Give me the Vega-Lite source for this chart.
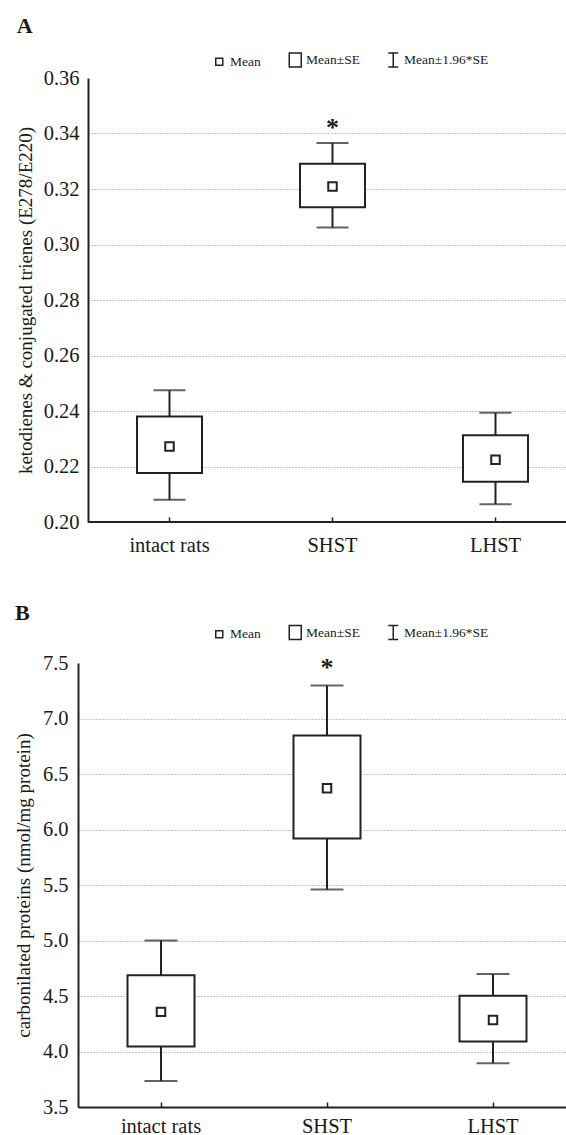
{
  "$schema": "https://vega.github.io/schema/vega-lite/v6.json",
  "padding": {"left": 14, "top": 14, "right": 0, "bottom": 0},
  "background": "white",
  "spacing": 45,
  "datasets": {
    "A": [
      {"group": "intact rats", "stat": "Mean", "ci_lo": 0.2080, "se_lo": 0.2177, "mean": 0.2272, "se_hi": 0.2380, "ci_hi": 0.2475},
      {"group": "SHST", "stat": "Mean", "ci_lo": 0.3061, "se_lo": 0.3134, "mean": 0.3209, "se_hi": 0.3291, "ci_hi": 0.3366},
      {"group": "LHST", "stat": "Mean", "ci_lo": 0.2064, "se_lo": 0.2145, "mean": 0.2224, "se_hi": 0.2313, "ci_hi": 0.2394}
    ],
    "B": [
      {"group": "intact rats", "stat": "Mean", "ci_lo": 3.735, "se_lo": 4.045, "mean": 4.357, "se_hi": 4.686, "ci_hi": 5.0},
      {"group": "SHST", "stat": "Mean", "ci_lo": 5.46, "se_lo": 5.919, "mean": 6.371, "se_hi": 6.847, "ci_hi": 7.297},
      {"group": "LHST", "stat": "Mean", "ci_lo": 3.895, "se_lo": 4.09, "mean": 4.284, "se_hi": 4.503, "ci_hi": 4.698}
    ],
    "starA": [{"group": "SHST", "y": 0.3428, "label": "*"}],
    "starB": [{"group": "SHST", "y": 7.473, "label": "*"}]
  },
  "config": {
    "view": {"stroke": null},
    "font": "Liberation Serif",
    "axis": {
      "labelFont": "Liberation Serif",
      "titleFont": "Liberation Serif",
      "labelColor": "#1a1a1a",
      "titleColor": "#1a1a1a",
      "titleFontWeight": "normal",
      "labelFontSize": 20.5,
      "titleFontSize": 19
    },
    "axisY": {
      "grid": true,
      "gridDash": [1, 2],
      "gridColor": "#8a8a8a",
      "gridWidth": 1,
      "domain": true,
      "domainColor": "#222",
      "domainWidth": 2,
      "ticks": false,
      "labelPadding": 9
    },
    "axisX": {
      "grid": false,
      "domain": false,
      "domainColor": "#222",
      "domainWidth": 2,
      "ticks": true,
      "tickSize": -5,
      "tickColor": "#222",
      "tickWidth": 1.5,
      "labelPadding": 18,
      "labelAngle": 0,
      "title": null
    },
    "legend": {
      "labelFont": "Liberation Serif",
      "labelFontSize": 13.5,
      "labelColor": "#1a1a1a",
      "columnPadding": 24,
      "labelOffset": 4
    },
    "title": {
      "font": "Liberation Serif",
      "fontSize": 22,
      "fontWeight": "bold",
      "color": "#1a1a1a",
      "anchor": "start",
      "frame": "bounds"
    }
  },
  "resolve": {"scale": {"shape": "independent"}, "legend": {"shape": "independent"}},
  "vconcat": [
    {
      "title": {"text": "A", "offset": 15.5},
      "width": 479,
      "height": 444,
      "data": {"name": "A"},
      "layer": [
        {
          "mark": {"type": "rule", "color": "#222", "strokeWidth": 2},
          "encoding": {
            "x": {"field": "group", "type": "nominal", "sort": null, "scale": {"type": "band", "range": [0, 489], "paddingInner": 0, "paddingOuter": 0}},
            "y": {
              "field": "ci_lo", "type": "quantitative",
              "scale": {"domain": [0.2, 0.36], "nice": false, "zero": false},
              "axis": {
                "title": "ketodienes & conjugated trienes (E278/E220)",
                "values": [0.2, 0.22, 0.24, 0.26, 0.28, 0.3, 0.32, 0.34, 0.36],
                "format": ".2f",
                "titlePadding": 7.5,
                "gridOpacity": {"condition": {"test": "datum.value >= 0.359 || datum.value <= 0.2001", "value": 0}, "value": 1}
              }
            },
            "y2": {"field": "ci_hi"}
          }
        },
        {
          "mark": {"type": "tick", "size": 32, "thickness": 2, "color": "#222"},
          "encoding": {
            "x": {"field": "group", "type": "nominal", "sort": null},
            "y": {"field": "ci_hi", "type": "quantitative"}
          }
        },
        {
          "mark": {"type": "tick", "size": 32, "thickness": 2, "color": "#222"},
          "encoding": {
            "x": {"field": "group", "type": "nominal", "sort": null},
            "y": {"field": "ci_lo", "type": "quantitative"}
          }
        },
        {
          "mark": {"type": "bar", "size": 65, "fill": "white", "stroke": "#222", "strokeWidth": 2},
          "encoding": {
            "x": {"field": "group", "type": "nominal", "sort": null},
            "y": {"field": "se_lo", "type": "quantitative"},
            "y2": {"field": "se_hi"}
          }
        },
        {
          "mark": {"type": "point", "filled": false, "fill": "white", "fillOpacity": 1, "stroke": "#222", "strokeWidth": 2, "size": 147, "opacity": 1},
          "encoding": {
            "x": {"field": "group", "type": "nominal", "sort": null},
            "y": {"field": "mean", "type": "quantitative"},
            "shape": {
              "field": "stat", "type": "nominal",
              "scale": {
                "domain": ["Mean", "Mean±SE", "Mean±1.96*SE"],
                "range": ["M-0.7,-0.7H0.7V0.7H-0.7Z", "M-1.2,-1.4H1.2V1.4H-1.2Z", "M-1,-1.4H1M0,-1.4V1.4M-1,1.4H1"]
              },
              "legend": {"title": null, "orient": "none", "direction": "horizontal", "legendX": 124.5, "legendY": -24.8}
            }
          }
        },
        {
          "data": {"name": "starA"},
          "mark": {"type": "text", "fontSize": 26, "fontWeight": "bold", "color": "#1a1a1a", "baseline": "alphabetic", "dy": 10},
          "encoding": {
            "x": {"field": "group", "type": "nominal", "sort": null},
            "y": {"field": "y", "type": "quantitative"},
            "text": {"field": "label"}
          }
        },
        {
          "data": {"values": [{}]},
          "mark": {"type": "rule", "color": "#222", "strokeWidth": 2},
          "encoding": {"y": {"datum": 0.2}}
        }
      ]
    },
    {
      "title": {"text": "B", "offset": 0.8},
      "width": 479,
      "height": 444,
      "data": {"name": "B"},
      "layer": [
        {
          "mark": {"type": "rule", "color": "#222", "strokeWidth": 2},
          "encoding": {
            "x": {"field": "group", "type": "nominal", "sort": null, "scale": {"type": "band", "range": [-10, 488], "paddingInner": 0, "paddingOuter": 0}, "axis": {"labelPadding": 14, "domain": true}},
            "y": {
              "field": "ci_lo", "type": "quantitative",
              "scale": {"domain": [3.5, 7.5], "nice": false, "zero": false},
              "axis": {
                "title": "carbonilated proteins (nmol/mg protein)",
                "values": [3.5, 4.0, 4.5, 5.0, 5.5, 6.0, 6.5, 7.0, 7.5],
                "format": ".1f",
                "offset": 10,
                "titlePadding": 8.5,
                "labelPadding": 10,
                "gridOpacity": {"condition": {"test": "datum.value >= 7.49 || datum.value <= 3.51", "value": 0}, "value": 1}
              }
            },
            "y2": {"field": "ci_hi"}
          }
        },
        {
          "mark": {"type": "tick", "size": 33, "thickness": 2, "color": "#222"},
          "encoding": {
            "x": {"field": "group", "type": "nominal", "sort": null},
            "y": {"field": "ci_hi", "type": "quantitative"}
          }
        },
        {
          "mark": {"type": "tick", "size": 33, "thickness": 2, "color": "#222"},
          "encoding": {
            "x": {"field": "group", "type": "nominal", "sort": null},
            "y": {"field": "ci_lo", "type": "quantitative"}
          }
        },
        {
          "mark": {"type": "bar", "size": 67, "fill": "white", "stroke": "#222", "strokeWidth": 2},
          "encoding": {
            "x": {"field": "group", "type": "nominal", "sort": null},
            "y": {"field": "se_lo", "type": "quantitative"},
            "y2": {"field": "se_hi"}
          }
        },
        {
          "mark": {"type": "point", "filled": false, "fill": "white", "fillOpacity": 1, "stroke": "#222", "strokeWidth": 2, "size": 147, "opacity": 1},
          "encoding": {
            "x": {"field": "group", "type": "nominal", "sort": null},
            "y": {"field": "mean", "type": "quantitative"},
            "shape": {
              "field": "stat", "type": "nominal",
              "scale": {
                "domain": ["Mean", "Mean±SE", "Mean±1.96*SE"],
                "range": ["M-0.7,-0.7H0.7V0.7H-0.7Z", "M-1.2,-1.4H1.2V1.4H-1.2Z", "M-1,-1.4H1M0,-1.4V1.4M-1,1.4H1"]
              },
              "legend": {"title": null, "orient": "none", "direction": "horizontal", "legendX": 124.5, "legendY": -37.3}
            }
          }
        },
        {
          "data": {"name": "starB"},
          "mark": {"type": "text", "fontSize": 26, "fontWeight": "bold", "color": "#1a1a1a", "baseline": "alphabetic", "dy": 10},
          "encoding": {
            "x": {"field": "group", "type": "nominal", "sort": null},
            "y": {"field": "y", "type": "quantitative"},
            "text": {"field": "label"}
          }
        }
      ]
    }
  ]
}
